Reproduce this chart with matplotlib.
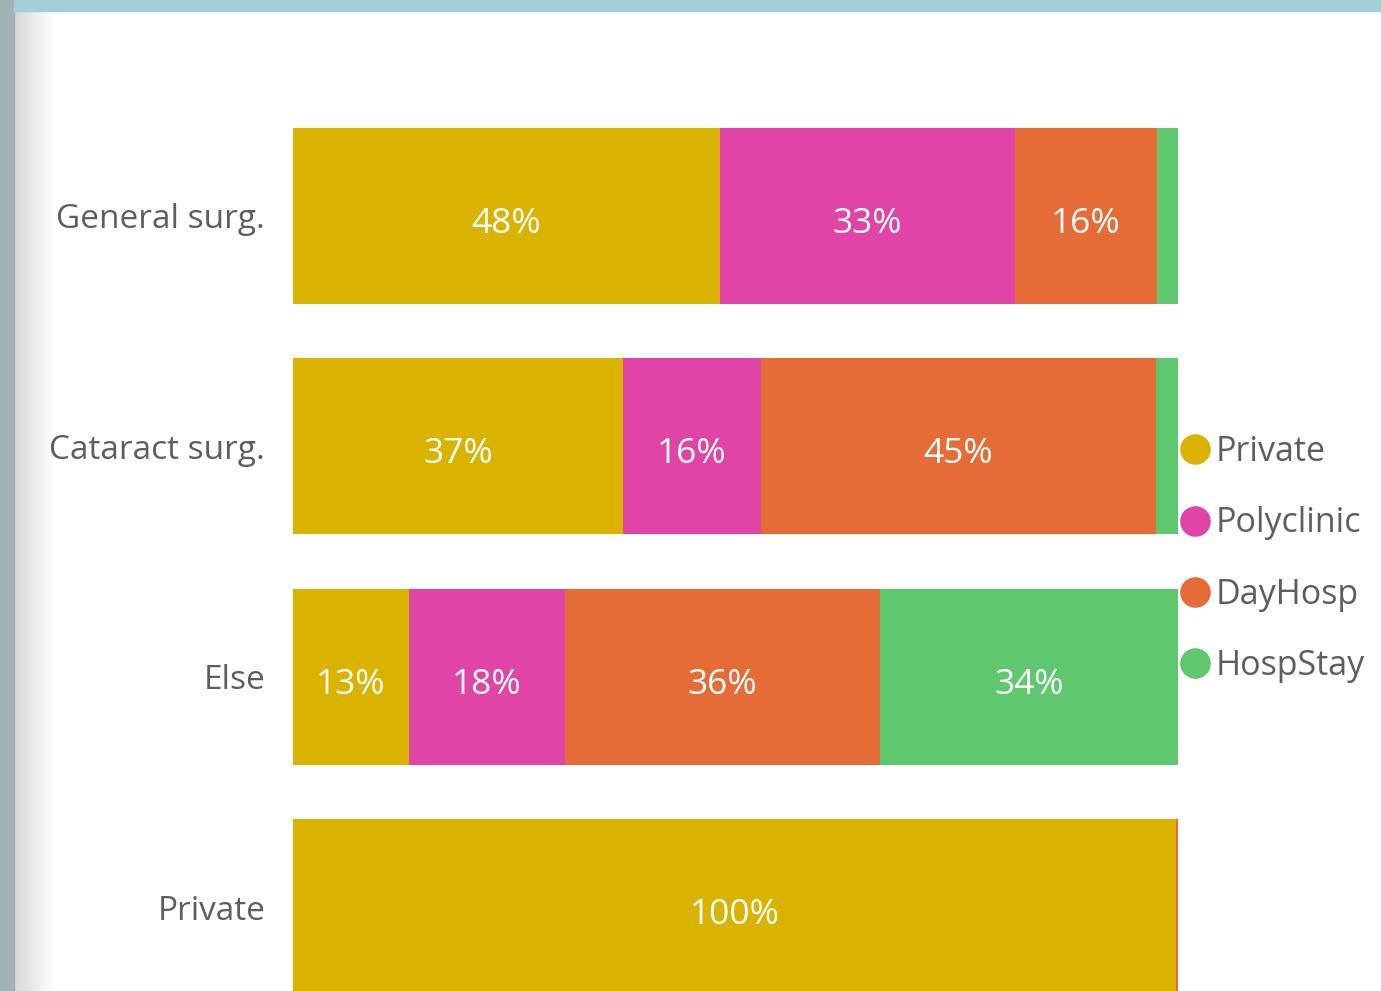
import numpy as np
import matplotlib.pyplot as plt
import matplotlib.transforms as mtrans
from matplotlib.lines import Line2D
from matplotlib.patches import Rectangle

plt.rcParams['font.family'] = ['Open Sans', 'DejaVu Sans']

categories = ["General surg.", "Cataract surg.", "Else", "Private"]
series = ["Private", "Polyclinic", "DayHosp", "HospStay"]
colors = ["#DAB300", "#E044A7", "#E66C37", "#5FC86E"]

# share (%) of each series per category
private = [48.2, 37.3, 13.1, 99.8]
polyclinic = [33.4, 15.6, 17.6, 0.0]
dayhosp = [16.0, 44.6, 35.6, 0.2]
hospstay = [2.4, 2.5, 33.7, 0.0]

W, H = 1381, 991
fig = plt.figure(figsize=(W / 100, H / 100), dpi=100)
fig.patch.set_facecolor("white")

# page decoration: grey strip, shadow and teal band
shadow = fig.add_axes([14 / W, 0, 40 / W, 1])
grad = np.linspace(0.84, 1.0, 64).reshape(1, -1)
shadow.imshow(np.dstack([grad, grad, grad]), aspect="auto", extent=[0, 1, 0, 1])
shadow.axis("off")
fig.patches.append(Rectangle((0, 0), 14 / W, 1, transform=fig.transFigure,
                             color="#A3B2B6", zorder=5))
fig.patches.append(Rectangle((14 / W, 1 - 11 / H), 1, 11 / H, transform=fig.transFigure,
                             color="#A5CFD6", zorder=5))

ax = fig.add_axes([293 / W, 0, 885 / W, 1])
y = np.arange(len(categories))
left = np.zeros(len(categories))
for name, vals, col in zip(series, [private, polyclinic, dayhosp, hospstay], colors):
    vals = np.array(vals)
    ax.barh(y, vals, left=left, height=0.764, color=col, label=name)
    for yi, (l, v) in enumerate(zip(left, vals)):
        if v >= 5:
            ax.text(l + v / 2, yi + 0.035, f"{round(v):.0f}%", ha="center", va="center",
                    color="white", fontsize=25.5)
    left += vals

ax.set_xlim(0, 100)
ax.set_ylim(3 + 84 / 230.5, -216 / 230.5)
ax.set_yticks(y)
ax.set_yticklabels(categories, fontsize=24, color="#605E5C")
shift = mtrans.ScaledTranslation(0, -4 / 100, fig.dpi_scale_trans)
for lbl in ax.get_yticklabels():
    lbl.set_va("center_baseline")
    lbl.set_transform(lbl.get_transform() + shift)
ax.tick_params(axis="y", length=0, pad=20)
ax.set_xticks([])
for s in ax.spines.values():
    s.set_visible(False)

handles = [Line2D([], [], marker="o", linestyle="none", markersize=21,
                  markerfacecolor=c, markeredgecolor=c) for c in colors]
leg = fig.legend(handles, series, loc="upper left",
                 bbox_to_anchor=(1175 / W, 1 - 435 / H), frameon=False,
                 fontsize=24.5, labelspacing=1.1, handletextpad=0.0,
                 handlelength=1.2, borderpad=0, borderaxespad=0)
for t in leg.get_texts():
    t.set_color("#605E5C")

fig.savefig("out.png", dpi=100)
